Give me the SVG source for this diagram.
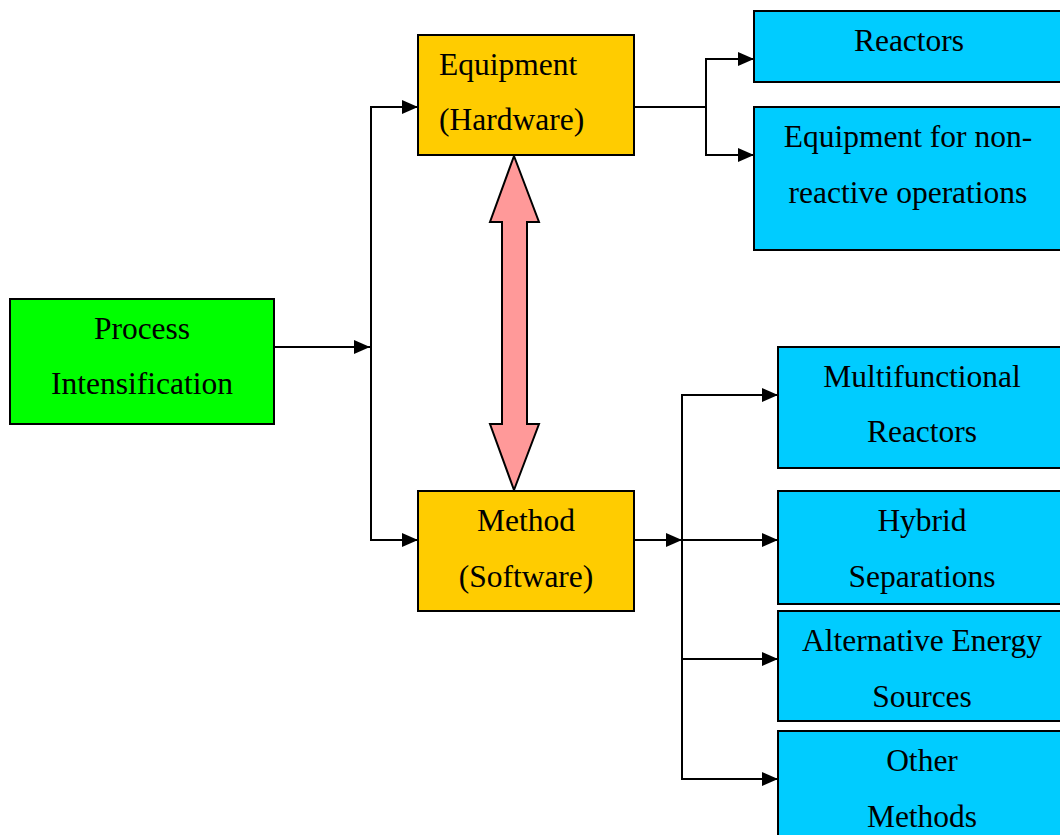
<svg xmlns="http://www.w3.org/2000/svg" width="1060" height="835" viewBox="0 0 1060 835">
<style>
.box{stroke:#000;stroke-width:2}
.g{fill:#00ff00}.o{fill:#ffcc00}.c{fill:#00ccff}
text{font-family:"Liberation Serif","Times New Roman",serif;font-size:31.5px;fill:#000}
.m{text-anchor:middle}
.ln{fill:none;stroke:#000;stroke-width:2}
</style>
<defs>
<marker id="a" viewBox="0 0 16 14" refX="16" refY="7" markerWidth="16" markerHeight="14" orient="auto" markerUnits="userSpaceOnUse">
<path d="M0,0 L16,7 L0,14 Z" fill="#000"/>
</marker>
</defs>
<g id="connectors">
<line class="ln" x1="274" y1="347" x2="370" y2="347" marker-end="url(#a)"/>
<line class="ln" x1="371" y1="107" x2="371" y2="540"/>
<line class="ln" x1="370" y1="107" x2="418" y2="107" marker-end="url(#a)"/>
<line class="ln" x1="370" y1="540" x2="418" y2="540" marker-end="url(#a)"/>
<line class="ln" x1="634" y1="107" x2="707" y2="107"/>
<line class="ln" x1="706" y1="59" x2="706" y2="155"/>
<line class="ln" x1="705" y1="59" x2="754" y2="59" marker-end="url(#a)"/>
<line class="ln" x1="705" y1="155" x2="754" y2="155" marker-end="url(#a)"/>
<line class="ln" x1="634" y1="540" x2="682" y2="540" marker-end="url(#a)"/>
<line class="ln" x1="682" y1="395" x2="682" y2="779"/>
<line class="ln" x1="681" y1="395" x2="778" y2="395" marker-end="url(#a)"/>
<line class="ln" x1="681" y1="540" x2="778" y2="540" marker-end="url(#a)"/>
<line class="ln" x1="681" y1="659" x2="778" y2="659" marker-end="url(#a)"/>
<line class="ln" x1="681" y1="779" x2="778" y2="779" marker-end="url(#a)"/>
<path d="M514,156 L539,222 L527,222 L527,424 L539,424 L514,490 L490,424 L502,424 L502,222 L490,222 Z" fill="#ff9999" stroke="#000" stroke-width="2" stroke-linejoin="miter"/>
</g>
<g id="process">
<rect class="box g" x="10" y="299" width="264" height="125"/>
<text class="m" x="142" y="339">Process</text>
<text class="m" x="142" y="394">Intensification</text>
</g>
<g id="equipment">
<rect class="box o" x="418" y="35" width="216" height="120"/>
<text x="439" y="75">Equipment</text>
<text x="439" y="130">(Hardware)</text>
</g>
<g id="method">
<rect class="box o" x="418" y="491" width="216" height="120"/>
<text class="m" x="526" y="531">Method</text>
<text class="m" x="526" y="587">(Software)</text>
</g>
<g id="reactors">
<rect class="box c" x="754" y="11" width="310" height="71"/>
<text class="m" x="909" y="51">Reactors</text>
</g>
<g id="nonreactive">
<rect class="box c" x="754" y="107" width="310" height="143"/>
<text class="m" x="908" y="147">Equipment for non-</text>
<text class="m" x="908" y="203">reactive operations</text>
</g>
<g id="multifunctional">
<rect class="box c" x="778" y="347" width="286" height="121"/>
<text class="m" x="922" y="387">Multifunctional</text>
<text class="m" x="922" y="442">Reactors</text>
</g>
<g id="hybrid">
<rect class="box c" x="778" y="491" width="286" height="113"/>
<text class="m" x="922" y="531">Hybrid</text>
<text class="m" x="922" y="587">Separations</text>
</g>
<g id="alternative">
<rect class="box c" x="778" y="611" width="286" height="110"/>
<text class="m" x="922" y="651">Alternative Energy</text>
<text class="m" x="922" y="707">Sources</text>
</g>
<g id="other">
<rect class="box c" x="778" y="731" width="286" height="110"/>
<text class="m" x="922" y="771">Other</text>
<text class="m" x="922" y="827">Methods</text>
</g>
</svg>
